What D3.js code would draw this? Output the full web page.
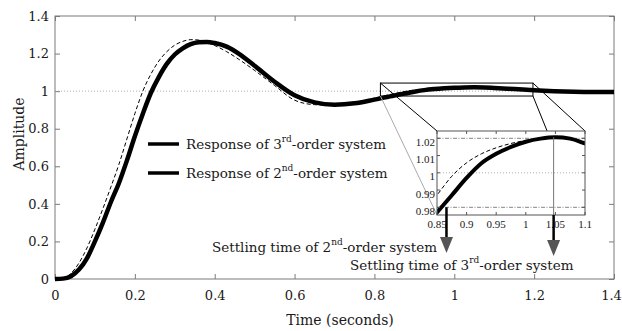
<!DOCTYPE html>
<html>
<head>
<meta charset="utf-8">
<script src="https://cdnjs.cloudflare.com/ajax/libs/d3/7.8.5/d3.min.js"></script>
<style>
body { margin: 0; background: #fff; }
text { font-family: "DejaVu Serif", serif; fill: #1a1a1a; }
.inset text { font-family: "Liberation Serif", serif; }
</style>
</head>
<body>
<div class="graphContainer"></div>
<script>
// page size and plot box
const w = 622;
const h = 331;
const box = {l: 55, r: 614, t: 16, b: 279};

// step responses
const time = [0, 0.02, 0.04, 0.06, 0.08, 0.1, 0.12, 0.14, 0.16, 0.18, 0.2, 0.22, 0.24, 0.26, 0.28, 0.3,
  0.32, 0.34, 0.36, 0.38, 0.4, 0.43, 0.46, 0.5, 0.55, 0.6, 0.65, 0.7, 0.75, 0.8, 0.85, 0.875, 0.9,
  0.925, 0.95, 0.975, 1.0, 1.025, 1.05, 1.075, 1.1, 1.15, 1.2, 1.25, 1.3, 1.35, 1.4];
const resp3rd = [0, 0.002, 0.015, 0.05, 0.11, 0.2, 0.3, 0.41, 0.51, 0.63, 0.76, 0.88, 0.99, 1.075, 1.145, 1.195,
  1.228, 1.25, 1.26, 1.262, 1.256, 1.237, 1.2, 1.135, 1.05, 0.978, 0.94, 0.928, 0.935, 0.955, 0.977, 0.987, 0.997,
  1.0055, 1.011, 1.015, 1.018, 1.0198, 1.0206, 1.0198, 1.017, 1.011, 1.005, 1.0, 0.997, 0.996, 0.996];
const resp2nd = [0, 0.004, 0.03, 0.085, 0.165, 0.265, 0.375, 0.49, 0.61, 0.745, 0.88, 1.0, 1.09, 1.16, 1.21, 1.245,
  1.265, 1.274, 1.272, 1.26, 1.243, 1.21, 1.17, 1.11, 1.03, 0.952, 0.928, 0.925, 0.94, 0.963, 0.987, 0.998, 1.0058,
  1.011, 1.0145, 1.017, 1.0188, 1.0202, 1.0206, 1.0198, 1.017, 1.011, 1.005, 1.0, 0.997, 0.996, 0.996];

// tick labels
const xTicks = [0, 0.2, 0.4, 0.6, 0.8, 1, 1.2, 1.4];
const yTicks = [0, 0.2, 0.4, 0.6, 0.8, 1, 1.2, 1.4];
const insetXTicks = [0.85, 0.9, 0.95, 1, 1.05, 1.1];
const insetYTicks = [0.98, 0.99, 1, 1.01, 1.02];

// zoom window and settling times
const zoomWin = {x0: 0.815, x1: 1.197, y0: 0.974, y1: 1.043};
const settle2nd = 0.866;
const settle3rd = 1.047;

const svg = d3.select(".graphContainer").append("svg")
  .attr("width", w)
  .attr("height", h);

const x = d3.scaleLinear().domain([0, 1.4]).range([box.l, box.r]);
const y = d3.scaleLinear().domain([0, 1.4]).range([box.b, box.t]);

const pts = (ys) => time.map((t, i) => [t, ys[i]]);

// axes with inward ticks
const frameCol = "#7a7a7a";
function styleAxis(g) {
  g.select(".domain").remove();
  g.selectAll(".tick line").attr("stroke", frameCol);
  g.selectAll(".tick text").attr("font-family", "DejaVu Serif").attr("font-size", 13).attr("fill", "#222");
}
const xAxisG = svg.append("g").attr("transform", `translate(0,${box.b})`)
  .call(d3.axisBottom(x).tickValues(xTicks).tickSizeInner(-5).tickSizeOuter(0).tickPadding(12).tickFormat(d3.format("~g")))
  .call(styleAxis);
// last label sits against the page edge
xAxisG.selectAll(".tick text").filter(d => d === 1.4).attr("dx", -3);
svg.append("g").attr("transform", `translate(${box.l},0)`)
  .call(d3.axisLeft(y).tickValues(yTicks).tickSizeInner(-5).tickSizeOuter(0).tickPadding(6).tickFormat(d3.format("~g")))
  .call(styleAxis);
svg.append("g").attr("transform", `translate(0,${box.t})`)
  .call(d3.axisTop(x).tickValues(xTicks).tickSizeInner(-5).tickSizeOuter(0).tickFormat(""))
  .call(styleAxis);
svg.append("g").attr("transform", `translate(${box.r},0)`)
  .call(d3.axisRight(y).tickValues(yTicks).tickSizeInner(-5).tickSizeOuter(0).tickFormat(""))
  .call(styleAxis);

svg.append("rect")
  .attr("x", box.l).attr("y", box.t)
  .attr("width", box.r - box.l).attr("height", box.b - box.t)
  .attr("fill", "none").attr("stroke", frameCol);

// reference line at 1
svg.append("line")
  .attr("x1", box.l).attr("x2", box.r)
  .attr("y1", y(1)).attr("y2", y(1))
  .attr("stroke", "#999").attr("stroke-width", 0.8).attr("stroke-dasharray", "1,2");

const line = d3.line().x(d => x(d[0])).y(d => y(d[1])).curve(d3.curveMonotoneX);

svg.append("path").attr("d", line(pts(resp2nd)))
  .attr("fill", "none").attr("stroke", "#000").attr("stroke-width", 1).attr("stroke-dasharray", "4,2.5");
svg.append("path").attr("d", line(pts(resp3rd)))
  .attr("fill", "none").attr("stroke", "#000").attr("stroke-width", 4.5);

// axis titles
svg.append("text")
  .attr("x", 340).attr("y", 325)
  .attr("text-anchor", "middle").attr("font-size", 14)
  .text("Time (seconds)");
svg.append("text")
  .attr("transform", "translate(24,134) rotate(-90)")
  .attr("text-anchor", "middle").attr("font-size", 14)
  .text("Amplitude");

// text with a superscript ordinal
function supText(tx, ty, pre, sup, post) {
  const t = svg.append("text").attr("x", tx).attr("y", ty).attr("font-size", 13.5);
  t.append("tspan").text(pre);
  t.append("tspan").attr("dy", -7).attr("font-size", 9).text(sup);
  t.append("tspan").attr("dy", 7).text(post);
  return t;
}

// legend
svg.append("line").attr("x1", 148).attr("x2", 179).attr("y1", 144).attr("y2", 144)
  .attr("stroke", "#000").attr("stroke-width", 3.5);
supText(186, 149, "Response of 3", "rd", "-order system");
svg.append("line").attr("x1", 148).attr("x2", 179).attr("y1", 173).attr("y2", 173)
  .attr("stroke", "#000").attr("stroke-width", 3.5);
supText(186, 178, "Response of 2", "nd", "-order system");

// zoom rectangle in main plot
svg.append("rect")
  .attr("x", x(zoomWin.x0)).attr("y", y(zoomWin.y1))
  .attr("width", x(zoomWin.x1) - x(zoomWin.x0)).attr("height", y(zoomWin.y0) - y(zoomWin.y1))
  .attr("fill", "none").attr("stroke", "#000").attr("stroke-width", 1);

// inset
const ib = {l: 437, r: 585, t: 131, b: 215};
const ix = d3.scaleLinear().domain([0.85, 1.1]).range([ib.l, ib.r]);
const iy = d3.scaleLinear().domain([0.98, 1.02]).range([207.3, 138.3]);

// connector lines
svg.append("line").attr("x1", x(zoomWin.x0)).attr("y1", y(zoomWin.y1)).attr("x2", ib.l).attr("y2", ib.t).attr("stroke", "#000");
svg.append("line").attr("x1", x(zoomWin.x1)).attr("y1", y(zoomWin.y1)).attr("x2", ib.r).attr("y2", ib.t).attr("stroke", "#000");
svg.append("line").attr("x1", x(zoomWin.x1)).attr("y1", y(zoomWin.y0)).attr("x2", ix(1.036)).attr("y2", ib.t).attr("stroke", "#000");
svg.append("line").attr("x1", x(zoomWin.x0)).attr("y1", y(zoomWin.y0)).attr("x2", ib.l).attr("y2", ib.b).attr("stroke", "#aaa");

const inset = svg.append("g").attr("class", "inset");
inset.append("rect")
  .attr("x", ib.l).attr("y", ib.t).attr("width", ib.r - ib.l).attr("height", ib.b - ib.t)
  .attr("fill", "#fff");

inset.append("clipPath").attr("id", "insetClip")
  .append("rect").attr("x", ib.l).attr("y", ib.t).attr("width", ib.r - ib.l).attr("height", ib.b - ib.t);

// limit lines
[0.98, 1.02].forEach(v => {
  inset.append("line").attr("x1", ib.l).attr("x2", ib.r).attr("y1", iy(v)).attr("y2", iy(v))
    .attr("stroke", "#666").attr("stroke-width", 0.8).attr("stroke-dasharray", "4,1.5,1,1.5");
});
inset.append("line").attr("x1", ib.l).attr("x2", ib.r).attr("y1", iy(1)).attr("y2", iy(1))
  .attr("stroke", "#999").attr("stroke-width", 0.8).attr("stroke-dasharray", "1,2");

const iline = d3.line().x(d => ix(d[0])).y(d => iy(d[1])).curve(d3.curveMonotoneX);
const clipped = inset.append("g").attr("clip-path", "url(#insetClip)");
clipped.append("path").attr("d", iline(pts(resp2nd)))
  .attr("fill", "none").attr("stroke", "#000").attr("stroke-width", 1).attr("stroke-dasharray", "4,2.5");
clipped.append("path").attr("d", iline(pts(resp3rd)))
  .attr("fill", "none").attr("stroke", "#000").attr("stroke-width", 4);

// settling time marker inside inset
inset.append("line").attr("x1", ix(settle3rd)).attr("x2", ix(settle3rd))
  .attr("y1", iy(1.0206)).attr("y2", ib.b).attr("stroke", "#777");

// inset ticks and labels
insetXTicks.forEach(v => {
  inset.append("line").attr("x1", ix(v)).attr("x2", ix(v)).attr("y1", ib.t).attr("y2", ib.t + 3).attr("stroke", "#555");
  inset.append("line").attr("x1", ix(v)).attr("x2", ix(v)).attr("y1", ib.b).attr("y2", ib.b - 3).attr("stroke", "#555");
  inset.append("text").attr("x", ix(v)).attr("y", 228).attr("text-anchor", "middle")
    .attr("font-size", 11).text(d3.format("~g")(v));
});
insetYTicks.forEach(v => {
  inset.append("line").attr("x1", ib.l).attr("x2", ib.l + 3).attr("y1", iy(v)).attr("y2", iy(v)).attr("stroke", "#555");
  inset.append("line").attr("x1", ib.r).attr("x2", ib.r - 3).attr("y1", iy(v)).attr("y2", iy(v)).attr("stroke", "#555");
  inset.append("text").attr("x", ib.l - 2).attr("y", iy(v) + 4).attr("dy", "0.32em").attr("text-anchor", "end")
    .attr("font-size", 11).text(d3.format("~g")(v));
});
inset.append("rect")
  .attr("x", ib.l).attr("y", ib.t).attr("width", ib.r - ib.l).attr("height", ib.b - ib.t)
  .attr("fill", "none").attr("stroke", "#555");

// arrows down to the settling-time notes
function arrow(ax, y1, tip) {
  svg.append("line").attr("x1", ax).attr("x2", ax).attr("y1", y1).attr("y2", tip - 12)
    .attr("stroke", "#000").attr("stroke-width", 2.5);
  svg.append("path")
    .attr("d", `M${ax - 6.5},${tip - 16}L${ax + 6.5},${tip - 16}L${ax},${tip}Z`)
    .attr("fill", "#555");
}
arrow(ix(settle2nd), iy(0.98), 253);
arrow(ix(settle3rd), ib.b, 256);

supText(212, 252, "Settling time of 2", "nd", "-order system");
supText(350, 270, "Settling time of 3", "rd", "-order system");
</script>
</body>
</html>
